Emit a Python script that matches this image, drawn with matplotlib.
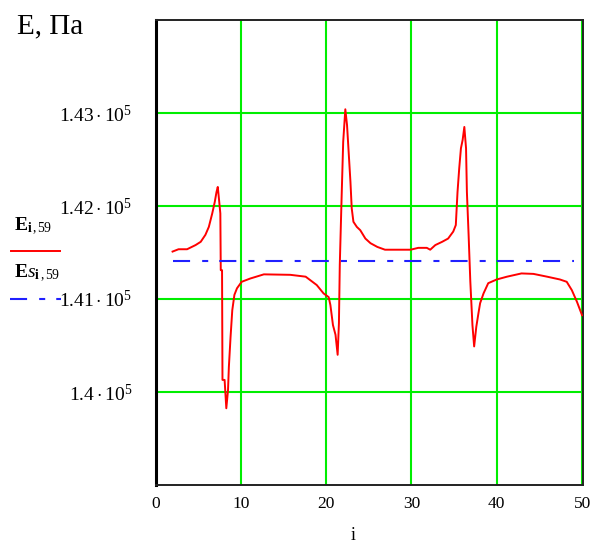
import matplotlib
matplotlib.use("Agg")
import matplotlib.pyplot as plt
from matplotlib.lines import Line2D

plt.rcParams['font.family'] = ['Liberation Serif', 'DejaVu Serif']
plt.rcParams['mathtext.fontset'] = 'custom'
plt.rcParams['mathtext.rm'] = 'Liberation Serif'
plt.rcParams['mathtext.it'] = 'Liberation Serif:italic'
plt.rcParams['mathtext.bf'] = 'Liberation Serif:bold'

# E(i) trace
i_vals = [2.0, 2.7, 3.7, 4.7, 5.3, 5.85, 6.25, 6.65, 6.95, 7.15, 7.3, 7.45, 7.6,
          7.65, 7.8, 7.85, 8.1, 8.3, 8.5, 8.6, 8.8, 9.0, 9.25, 9.55, 10.1, 11.1,
          12.7, 15.8, 17.6, 18.9, 19.7, 20.3, 20.5, 20.8, 21.1, 21.35, 21.5, 21.6,
          21.8, 22.0, 22.25, 22.45, 22.65, 22.85, 23.0, 23.2, 23.6, 24.0, 24.6,
          25.2, 26.0, 26.9, 29.9, 30.8, 31.8, 32.2, 32.8, 33.6, 34.3, 34.9, 35.2,
          35.4, 35.6, 35.8, 36.0, 36.2, 36.4, 36.5, 36.7, 36.9, 37.15, 37.35,
          37.6, 37.85, 38.05, 38.45, 39.0, 40.0, 41.2, 42.9, 44.3, 45.9, 47.4,
          48.2, 48.8, 49.4, 50.0]
E_vals = [141510, 141535, 141535, 141580, 141615, 141690, 141775, 141920, 142045,
          142150, 142205, 142065, 141920, 141310, 141310, 140130, 140130, 139825,
          140020, 140270, 140595, 140880, 141045, 141115, 141185, 141220, 141265,
          141260, 141240, 141150, 141060, 141020, 140935, 140720, 140615, 140400,
          140740, 141365, 142045, 142690, 143040, 142870, 142565, 142260, 141975,
          141830, 141775, 141740, 141650, 141600, 141560, 141530, 141530, 141550,
          141550, 141530, 141580, 141615, 141650, 141725, 141795, 142150, 142405,
          142620, 142710, 142850, 142620, 142150, 141690, 141190, 140720, 140490,
          140700, 140845, 140955, 141060, 141170, 141210, 141240, 141275, 141270,
          141240, 141210, 141185, 141095, 140970, 140825]

# Es(i) - constant level
es_i = [2, 49]
es_vals = [141410, 141410]

x_ticks = [0, 10, 20, 30, 40, 50]
y_ticks = [140000, 141000, 142000, 143000]
y_labels = [r'$1.4\cdot10^{5}$', r'$1.41\cdot10^{5}$',
            r'$1.42\cdot10^{5}$', r'$1.43\cdot10^{5}$']

W, H = 592, 545
fig = plt.figure(figsize=(W / 100, H / 100), dpi=100)
ax = fig.add_axes([155.5 / W, 1 - 485 / H, 427 / W, 465 / H])

dashdot = (0, (8.2, 5.8, 2.9, 5.3))
ax.plot(i_vals, E_vals, color='#ff0000', lw=1.4, zorder=3)
ax.plot(es_i, es_vals, color='#2020ff', lw=1.5, ls=dashdot, zorder=4)

ax.set_xlim(0, 50.05)
ax.set_ylim(139000, 144000)
ax.set_xticks(x_ticks)
ax.set_xticklabels([str(t) for t in x_ticks], fontsize=12.5)
ax.set_yticks(y_ticks)
ax.set_yticklabels(y_labels, fontsize=14)
ax.tick_params(axis='both', length=0)
ax.tick_params(axis='x', pad=8)
ax.tick_params(axis='y', pad=17)
ax.grid(True, color='#00ee00', lw=1.5, zorder=1)
for s in ax.spines.values():
    s.set_color('#222222')
    s.set_linewidth(1.4)
ax.spines['left'].set_linewidth(2.2)
ax.spines['left'].set_color('black')

fig.text(353 / W, 1 - 540 / H, 'i', fontsize=13, ha='center', va='baseline')
fig.text(17 / W, 1 - 33 / H, 'E, Па', fontsize=21, va='baseline')

# legend block on the left, Mathcad style (label above line sample)
fig.text(14 / W, 1 - 230 / H, r'$\mathbf{E}_{\mathbf{i}\,,59}$', fontsize=14, va='baseline')
fig.add_artist(Line2D([11 / W, 60 / W], [1 - 251 / H, 1 - 251 / H],
                      color='#ff0000', lw=1.4, transform=fig.transFigure))
fig.text(14 / W, 1 - 277 / H, r'$\mathbf{E}s_{\mathbf{i}\,,59}$', fontsize=14, va='baseline')
fig.add_artist(Line2D([10 / W, 61 / W], [1 - 299 / H, 1 - 299 / H],
                      color='#2020ff', lw=1.5, ls=dashdot, transform=fig.transFigure))

fig.savefig('out.png', dpi=100)
